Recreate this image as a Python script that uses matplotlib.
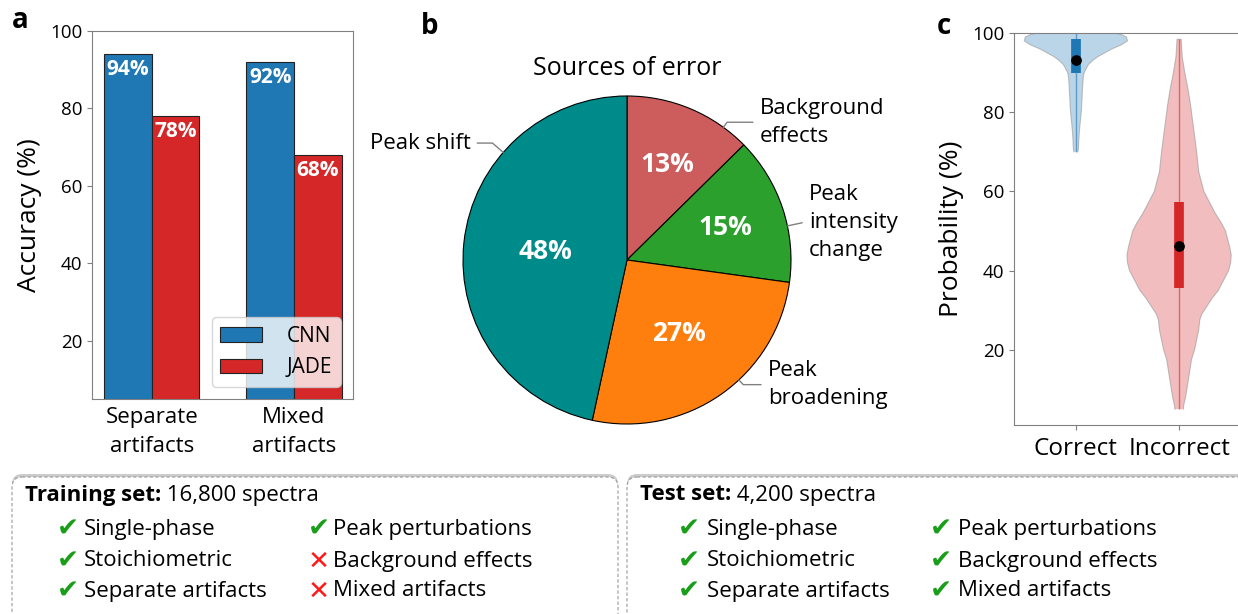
import matplotlib
matplotlib.use("Agg")
import matplotlib.pyplot as plt
from matplotlib.patches import FancyBboxPatch
import numpy as np

plt.rcParams['font.family'] = ['Open Sans', 'DejaVu Sans']

# --- data -------------------------------------------------------------
# panel a: accuracy
groups = ['Separate\nartifacts', 'Mixed\nartifacts']
cnn_acc = [94, 92]
jade_acc = [78, 68]

# panel b: sources of error
error_names = ['Background\neffects', 'Peak\nintensity\nchange', 'Peak\nbroadening', 'Peak shift']
error_counts = [13, 15, 27, 48]
error_pct = ['13%', '15%', '27%', '48%']
error_colors = ['#cd5c5c', '#2ca02c', '#ff7f0e', '#008b8b']

# panel c: violin outlines (probability %, half width)
correct_y = [70, 71, 73, 75, 77, 79, 81, 83, 85, 87, 89, 90, 91, 92, 93, 94,
             95, 96, 97, 98, 99, 99.6, 100]
correct_w = [0.02, 0.025, 0.028, 0.033, 0.04, 0.048, 0.055, 0.058, 0.062, 0.066,
             0.072, 0.08, 0.1, 0.12, 0.16, 0.21, 0.28, 0.35, 0.44, 0.5, 0.49,
             0.44, 0.38]
incorrect_y = [5, 6, 8, 10, 12.5, 15, 17.5, 20, 22.5, 25, 27.5, 29, 31, 33, 35,
               37.5, 40, 42, 44, 46, 48, 50, 52, 54.5, 57, 60, 62, 65, 70, 74,
               78, 82, 86, 90, 94, 98.4]
incorrect_w = [0.04, 0.045, 0.062, 0.075, 0.09, 0.105, 0.12, 0.15, 0.17, 0.19,
               0.2, 0.22, 0.27, 0.32, 0.38, 0.43, 0.48, 0.5, 0.505, 0.49, 0.47,
               0.45, 0.41, 0.35, 0.3, 0.24, 0.22, 0.19, 0.17, 0.15, 0.13, 0.11,
               0.085, 0.055, 0.03, 0.02]
# q1, median, q3
correct_box = [90, 93.2, 98.5]
incorrect_box = [35.7, 46.1, 57.2]
violin_names = ['Correct', 'Incorrect']

# bottom boxes
train_items = ['Single-phase', 'Stoichiometric', 'Separate artifacts',
               'Peak perturbations', 'Background effects', 'Mixed artifacts']
train_ok = [True, True, True, True, False, False]
test_items = ['Single-phase', 'Stoichiometric', 'Separate artifacts',
              'Peak perturbations', 'Background effects', 'Mixed artifacts']
test_ok = [True, True, True, True, True, True]

W, H = 1238, 614
fig = plt.figure(figsize=(W / 100, H / 100), dpi=100)

def px_axes(left, top, right, bottom):
    return fig.add_axes([left / W, 1 - bottom / H, (right - left) / W, (bottom - top) / H])

spine_c = '#808080'

# --- panel a ----------------------------------------------------------
ax = px_axes(92, 31, 353, 399)
x = np.arange(len(groups))
bw = 0.335
b1 = ax.bar(x - bw / 2, cnn_acc, bw, color='#1f77b4', edgecolor='#222222', linewidth=0.8, label='CNN')
b2 = ax.bar(x + bw / 2, jade_acc, bw, color='#d62728', edgecolor='#222222', linewidth=0.8, label='JADE')
for bars, vals in [(b1, cnn_acc), (b2, jade_acc)]:
    for r, v in zip(bars, vals):
        ax.text(r.get_x() + r.get_width() / 2, v - 1.3, '%d%%' % v, color='white',
                ha='center', va='top', fontsize=15, fontweight='bold')
ax.set_ylim(5, 100)
ax.set_xlim(-0.42, 1.415)
ax.set_yticks([20, 40, 60, 80, 100])
ax.set_xticks(x)
ax.set_xticklabels(groups, fontsize=16, linespacing=1.5)
ax.tick_params(axis='x', length=0, pad=6)
ax.tick_params(axis='y', labelsize=13.5, color=spine_c)
ax.set_ylabel('Accuracy (%)', fontsize=19, labelpad=6)
for s in ax.spines.values():
    s.set_color(spine_c)
ax.legend(loc='lower right', fontsize=15, handlelength=2.0, borderaxespad=0.6,
          handletextpad=1.2, labelspacing=0.5)

# --- panel b ----------------------------------------------------------
pie_ax = px_axes(627 - 205, 260 - 205, 627 + 205, 260 + 205)
wedges, pct_texts = pie_ax.pie(error_counts, labels=error_pct, colors=error_colors,
                               startangle=90, counterclock=False, labeldistance=0.58,
                               wedgeprops=dict(edgecolor='black', linewidth=0.8),
                               textprops=dict(color='white', fontsize=19, fontweight='bold'))
pct_r = [0.63, 0.63, 0.55, 0.5]
for t, w, r in zip(pct_texts, wedges, pct_r):
    a = np.radians((w.theta1 + w.theta2) / 2)
    t.set_position((r * np.cos(a), r * np.sin(a)))
    t.set_ha('center')
    t.set_va('center')
pie_ax.set_xlim(-1.25, 1.25)
pie_ax.set_ylim(-1.25, 1.25)
pie_ax.set_aspect('equal')
pie_ax.text(0, 1.17, 'Sources of error', ha='center', va='center', fontsize=18)

# label positions (text anchor) and edge angles for leader lines
lab_xy = [(0.81, 0.84), (1.11, 0.23), (0.86, -0.76), (-0.955, 0.713)]
lab_ha = ['left', 'left', 'left', 'right']
edge_ang = [54, 12, -47, 139]
for name, (tx, ty), ha, ang in zip(error_names, lab_xy, lab_ha, edge_ang):
    ex, ey = np.cos(np.radians(ang)), np.sin(np.radians(ang))
    pie_ax.annotate(name, xy=(ex, ey), xytext=(tx, ty), ha=ha, va='center',
                    fontsize=16, linespacing=1.45,
                    arrowprops=dict(arrowstyle='-', color='#808080', lw=1,
                                    shrinkA=3, shrinkB=0,
                                    connectionstyle='angle,angleA=0,angleB=%d' % ang))

# --- panel c ----------------------------------------------------------
axc = px_axes(1014, 33, 1241, 425)
vcols = ['#1f77b4', '#d62728']
for pos, vy, vw, box, col in [(1, correct_y, correct_w, correct_box, vcols[0]),
                              (2, incorrect_y, incorrect_w, incorrect_box, vcols[1])]:
    vy = np.array(vy)
    vw = np.array(vw)
    axc.fill_betweenx(vy, pos - vw, pos + vw, facecolor=col, alpha=0.3,
                      edgecolor='none', zorder=1)
    axc.plot(np.r_[pos - vw, (pos + vw)[::-1]], np.r_[vy, vy[::-1]], color='#999999',
             lw=0.8, alpha=0.6, zorder=1)
    axc.vlines(pos, vy.min(), vy.max(), color=col, lw=1, alpha=0.6, zorder=2)
    axc.vlines(pos, box[0], box[2], color=col, lw=7, zorder=3)
    axc.scatter([pos], [box[1]], s=45, color='black', zorder=4)
axc.set_xlim(0.4, 2.6)
axc.set_ylim(1, 100)
axc.set_xticks([1, 2])
axc.set_xticklabels(violin_names, fontsize=17.5)
axc.set_yticks([20, 40, 60, 80, 100])
axc.tick_params(axis='y', labelsize=13.5, color=spine_c)
axc.tick_params(axis='x', color=spine_c, pad=5)
axc.set_ylabel('Probability (%)', fontsize=19, labelpad=6)
for s in axc.spines.values():
    s.set_color(spine_c)
axc.spines['right'].set_visible(False)

# --- panel letters and bottom boxes -----------------------------------
fig.text(20 / W, 1 - 20 / H, 'a', fontsize=20, fontweight='bold', ha='center', va='center')
fig.text(430 / W, 1 - 26 / H, 'b', fontsize=20, fontweight='bold', ha='center', va='center')
fig.text(944 / W, 1 - 26 / H, 'c', fontsize=20, fontweight='bold', ha='center', va='center')

ov2 = fig.add_axes([0, 0, 1, 1], zorder=5)
ov2.set_xlim(0, W)
ov2.set_ylim(H, 0)
ov2.axis('off')
ov2.patch.set_alpha(0)

def draw_box(x0, x1, title, sub, items, ok, cx, tx):
    sh = FancyBboxPatch((x0, 474), x1 - x0, 200, boxstyle='round,pad=0,rounding_size=10',
                        fc='#cccccc', ec='none')
    ov2.add_patch(sh)
    bx = FancyBboxPatch((x0, 477), x1 - x0, 200, boxstyle='round,pad=0,rounding_size=10',
                        fc='white', ec='#999999', ls=(0, (3, 2)), lw=0.8)
    ov2.add_patch(bx)
    t1 = ov2.text(x0 + 13, 495, title, fontsize=16, fontweight='bold', va='center')
    ov2.annotate(' ' + sub, xy=(1, 0), xycoords=t1, va='bottom', fontsize=16)
    rows = [529, 561, 591]
    for i, (item, good) in enumerate(zip(items, ok)):
        col = i // 3
        y = rows[i % 3]
        if good:
            ov2.text(cx[col], y + 1, '\u2714', color='#1a9e1a', fontsize=19,
                     family='DejaVu Sans', ha='center', va='center')
        else:
            ov2.text(cx[col], y + 1, '\u2715', color='#ff1a1a', fontsize=19,
                     family='DejaVu Sans', ha='center', va='center')
        ov2.text(tx[col], y, item, fontsize=16, va='center')

draw_box(12, 618, 'Training set:', '16,800 spectra', train_items, train_ok, [68, 319], [84, 333])
draw_box(627, 1250, 'Test set:', '4,200 spectra', test_items, test_ok, [689, 941], [707, 958])

fig.savefig('out.png', dpi=100)
